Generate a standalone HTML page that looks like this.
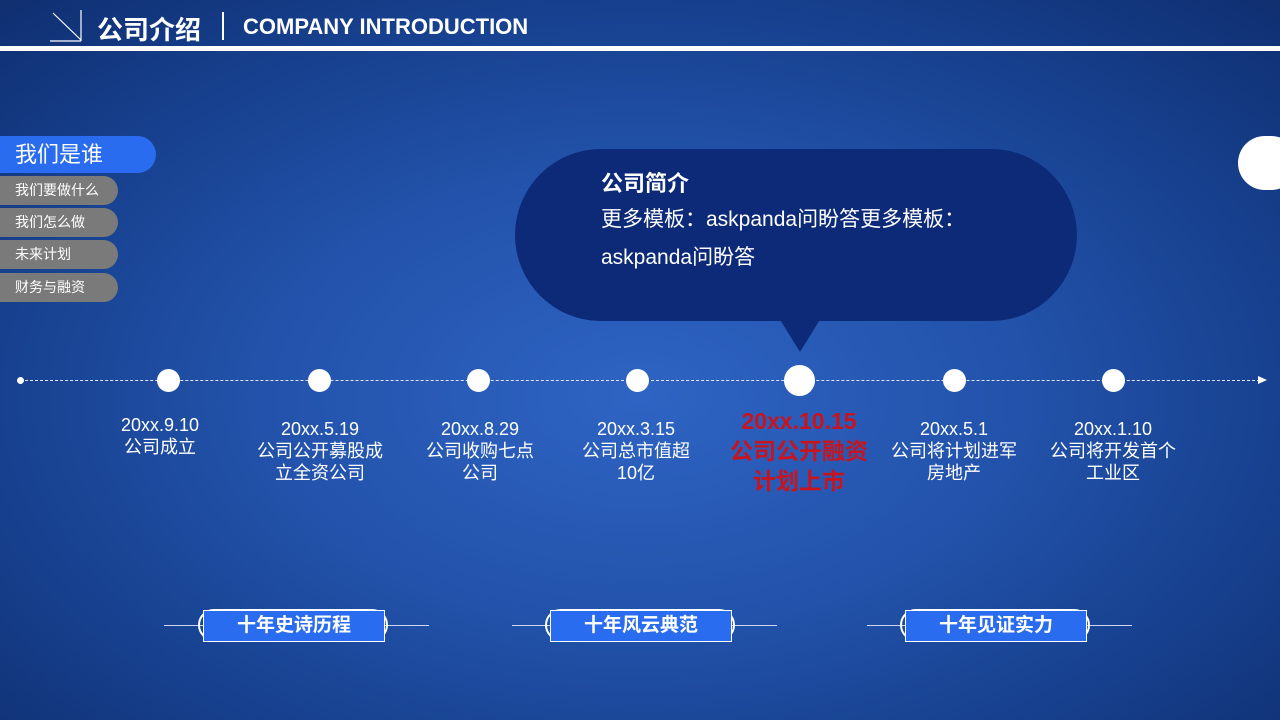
<!DOCTYPE html>
<html><head><meta charset="utf-8"><style>
body{margin:0;width:1280px;height:720px;overflow:hidden;position:relative;font-family:"Liberation Sans","Noto Sans CJK SC",sans-serif;
background:radial-gradient(ellipse 75% 80% at 50% 55%,#2f64c4 0%,#2252aa 40%,#163f8c 70%,#0e2c6c 100%);color:#fff}
.a{position:absolute}
.nav{position:absolute;left:0;background:#7a7a7a;border-radius:0 16px 16px 0;width:118px;height:29px;font-size:14px;line-height:29px;padding-left:15px;box-sizing:border-box}
.lbl{position:absolute;text-align:center;font-size:18px;line-height:22px;width:160px}
.dot{position:absolute;width:23px;height:23px;border-radius:50%;background:#fff;top:369px}
.tag{position:absolute;top:610px;width:180px;height:30px;background:#2a6cf0;border:1px solid #fff;font-size:19px;font-weight:bold;line-height:30px;text-align:center}
.pill{position:absolute;top:609px;width:190px;height:32px;border:2px solid #fff;border-radius:16px;box-sizing:border-box}
.tl{position:absolute;top:625px;height:1px;background:#cfd8f0}
</style></head><body>
<svg class="a" style="left:50px;top:10px" width="36" height="34"><line x1="3" y1="3" x2="31" y2="30" stroke="#fff" stroke-width="1.2"/><line x1="0" y1="31" x2="31" y2="31" stroke="#fff" stroke-width="1.2"/><line x1="31" y1="0" x2="31" y2="31" stroke="#fff" stroke-width="1.2"/></svg>
<div class="a" style="left:97px;top:10px;font-size:26px;font-weight:bold">公司介绍</div>
<div class="a" style="left:222px;top:12px;width:2px;height:28px;background:#fff"></div>
<div class="a" style="left:243px;top:14px;font-size:22px;font-weight:bold">COMPANY INTRODUCTION</div>
<div class="a" style="left:0;top:46px;width:1280px;height:5px;background:#fff"></div>
<div class="a" style="left:0;top:136px;width:156px;height:37px;background:#2a6cf0;border-radius:0 19px 19px 0;font-size:22px;line-height:37px;padding-left:15px;box-sizing:border-box">我们是谁</div>
<div class="nav" style="top:176px">我们要做什么</div>
<div class="nav" style="top:208px">我们怎么做</div>
<div class="nav" style="top:240px">未来计划</div>
<div class="nav" style="top:273px">财务与融资</div>
<div class="a" style="left:1238px;top:136px;width:60px;height:54px;background:#fff;border-radius:27px"></div>
<div class="a" style="left:515px;top:149px;width:562px;height:172px;background:#0c2a78;border-radius:86px"></div>
<svg class="a" style="left:775px;top:318px" width="50" height="36"><polygon points="4,0 46,0 25,34" fill="#0c2a78"/></svg>
<div class="a" style="left:601px;top:166px;font-size:22px;font-weight:bold">公司简介</div>
<div class="a" style="left:601px;top:201px;font-size:21px;line-height:38px;width:420px">更多模板：askpanda问盼答更多模板：<br>askpanda问盼答</div>
<div class="a" style="left:20px;top:380px;width:1245px;border-top:1px dashed #dfe6f6"></div>
<div class="a" style="left:17px;top:377px;width:7px;height:7px;border-radius:50%;background:#fff"></div>
<svg class="a" style="left:1258px;top:375px" width="10" height="10"><polygon points="0,1 9,5 0,9" fill="#fff"/></svg>
<div class="dot" style="left:157px"></div><div class="dot" style="left:308px"></div><div class="dot" style="left:467px"></div><div class="dot" style="left:626px"></div>
<div class="dot" style="left:784px;top:365px;width:31px;height:31px"></div>
<div class="dot" style="left:943px"></div><div class="dot" style="left:1102px"></div>
<div class="lbl" style="left:80px;top:414px">20xx.9.10<br>公司成立</div>
<div class="lbl" style="left:240px;top:418px">20xx.5.19<br>公司公开募股成<br>立全资公司</div>
<div class="lbl" style="left:400px;top:418px">20xx.8.29<br>公司收购七点<br>公司</div>
<div class="lbl" style="left:556px;top:418px">20xx.3.15<br>公司总市值超<br>10亿</div>
<div class="lbl" style="left:719px;top:406px;color:#c8141e;font-size:23px;font-weight:bold;line-height:30px">20xx.10.15<br>公司公开融资<br>计划上市</div>
<div class="lbl" style="left:874px;top:418px">20xx.5.1<br>公司将计划进军<br>房地产</div>
<div class="lbl" style="left:1033px;top:418px">20xx.1.10<br>公司将开发首个<br>工业区</div>
<div class="tl" style="left:164px;width:265px"></div><div class="tl" style="left:512px;width:265px"></div><div class="tl" style="left:867px;width:265px"></div>
<div class="pill" style="left:198px"></div><div class="pill" style="left:545px"></div><div class="pill" style="left:900px"></div>
<div class="tag" style="left:203px">十年史诗历程</div>
<div class="tag" style="left:550px">十年风云典范</div>
<div class="tag" style="left:905px">十年见证实力</div>
</body></html>
